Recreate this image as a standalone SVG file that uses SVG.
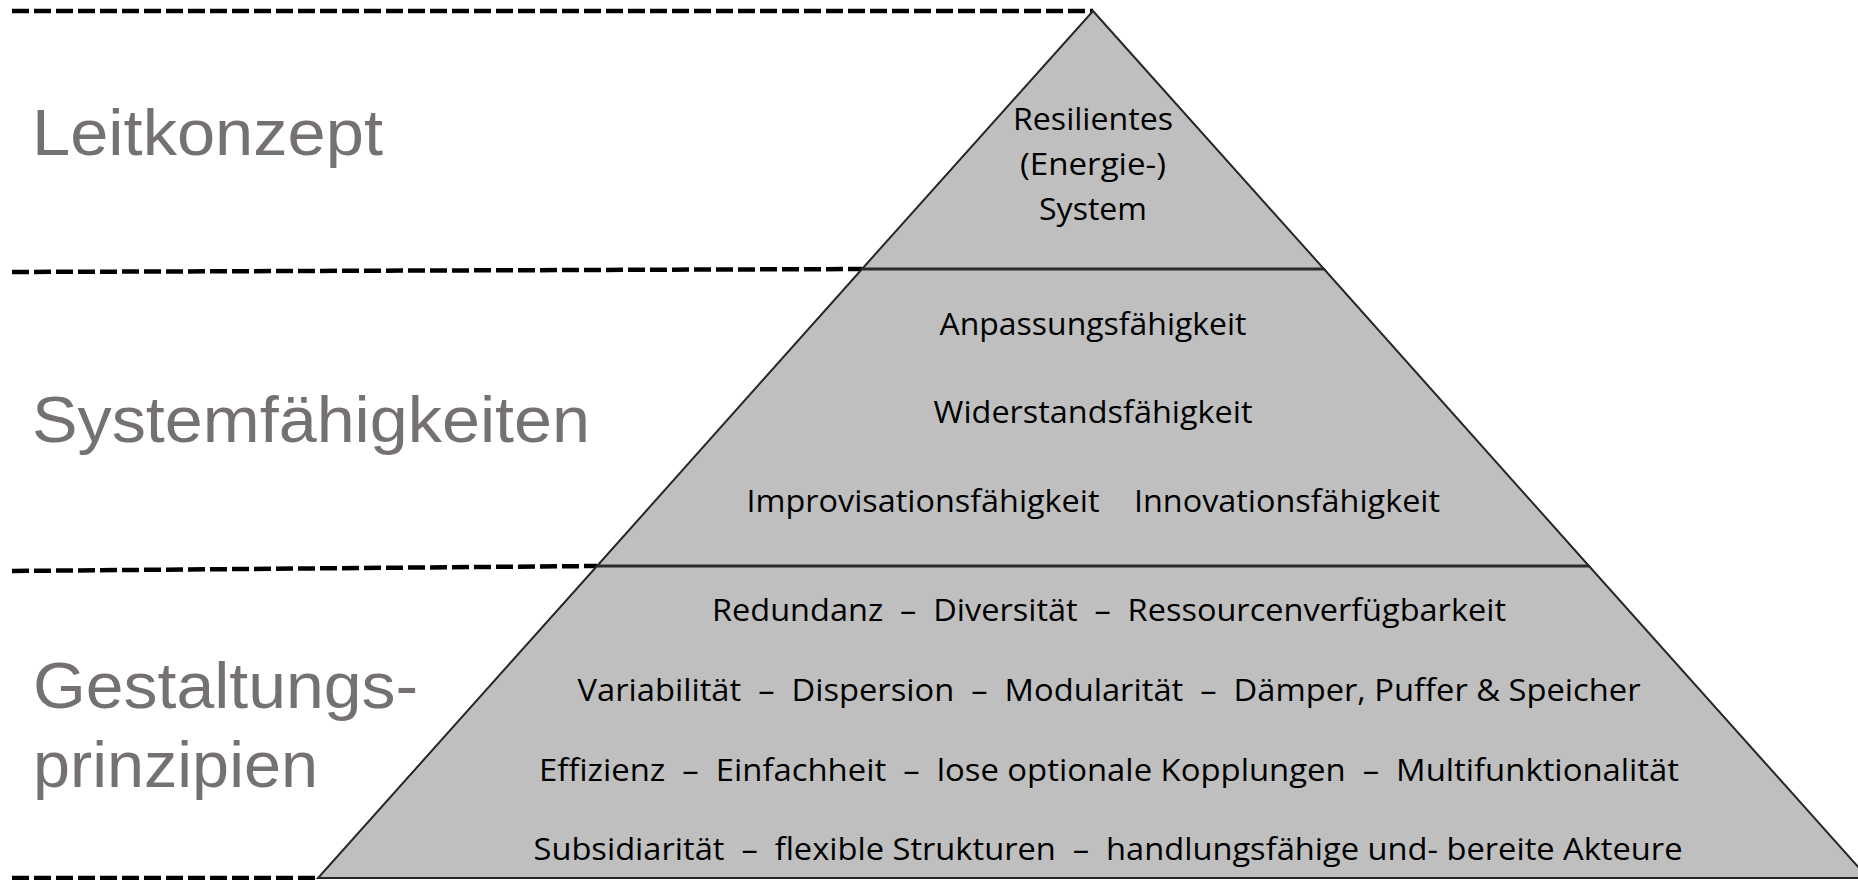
<svg xmlns="http://www.w3.org/2000/svg" width="1858" height="880" viewBox="0 0 1858 880">
<style>
.tier{fill:#bfbfbf;stroke:#262626;stroke-width:2;stroke-linejoin:miter}
.div{stroke:#2b2b2b;stroke-width:3}
.dash{stroke:#000;stroke-width:4.5;stroke-dasharray:17 5;fill:none}
.lbl{font-family:"Liberation Sans",Arial,sans-serif;font-size:64px;fill:#767171}
.t{font-family:"Open Sans","Liberation Sans",Arial,sans-serif;font-size:31px;fill:#000;text-anchor:middle}
</style>
<rect width="1858" height="880" fill="#fff"/>
<g id="connectors">
<line class="dash" x1="12" y1="11" x2="1093" y2="11"/>
<line class="dash" x1="12" y1="272" x2="862" y2="269"/>
<line class="dash" x1="12" y1="571" x2="597" y2="566"/>
<line class="dash" x1="12" y1="878" x2="318" y2="878"/>
</g>
<g id="tier-bottom">
<polygon class="tier" points="597,566 1589,566 1868,878 318,878"/>
<text class="t" x="1109" y="621" textLength="794" lengthAdjust="spacingAndGlyphs" xml:space="preserve">Redundanz  –  Diversität  –  Ressourcenverfügbarkeit</text>
<text class="t" x="1109" y="701" textLength="1063" lengthAdjust="spacingAndGlyphs" xml:space="preserve">Variabilität  –  Dispersion  –  Modularität  –  Dämper, Puffer &amp; Speicher</text>
<text class="t" x="1109" y="781" textLength="1140" lengthAdjust="spacingAndGlyphs" xml:space="preserve">Effizienz  –  Einfachheit  –  lose optionale Kopplungen  –  Multifunktionalität</text>
<text class="t" x="1108" y="860" textLength="1149" lengthAdjust="spacingAndGlyphs" xml:space="preserve">Subsidiarität  –  flexible Strukturen  –  handlungsfähige und- bereite Akteure</text>
</g>
<g id="tier-middle">
<polygon class="tier" points="862,269 1324,269 1589,566 597,566"/>
<text class="t" x="1093" y="335" textLength="307" lengthAdjust="spacingAndGlyphs">Anpassungsfähigkeit</text>
<text class="t" x="1093" y="423" textLength="319" lengthAdjust="spacingAndGlyphs">Widerstandsfähigkeit</text>
<text class="t" x="923" y="512" textLength="353" lengthAdjust="spacingAndGlyphs">Improvisationsfähigkeit</text>
<text class="t" x="1287" y="512" textLength="306" lengthAdjust="spacingAndGlyphs">Innovationsfähigkeit</text>
</g>
<g id="tier-top">
<polygon class="tier" points="1093,11 1324,269 862,269"/>
<text class="t" x="1093" y="130" textLength="160" lengthAdjust="spacingAndGlyphs">Resilientes</text>
<text class="t" x="1093" y="175" textLength="146" lengthAdjust="spacingAndGlyphs">(Energie-)</text>
<text class="t" x="1093" y="220" textLength="108" lengthAdjust="spacingAndGlyphs">System</text>
</g>
<g id="dividers">
<line class="div" x1="862" y1="269" x2="1324" y2="269"/>
<line class="div" x1="597" y1="566" x2="1589" y2="566"/>
</g>
<g id="label-leitkonzept">
<text class="lbl" x="32" y="155" textLength="351" lengthAdjust="spacingAndGlyphs">Leitkonzept</text>
</g>
<g id="label-systemfaehigkeiten">
<text class="lbl" x="32" y="442" textLength="558" lengthAdjust="spacingAndGlyphs">Systemfähigkeiten</text>
</g>
<g id="label-gestaltungsprinzipien">
<text class="lbl" x="33" y="708" textLength="385" lengthAdjust="spacingAndGlyphs">Gestaltungs-</text>
<text class="lbl" x="33" y="787" textLength="285" lengthAdjust="spacingAndGlyphs">prinzipien</text>
</g>
</svg>
